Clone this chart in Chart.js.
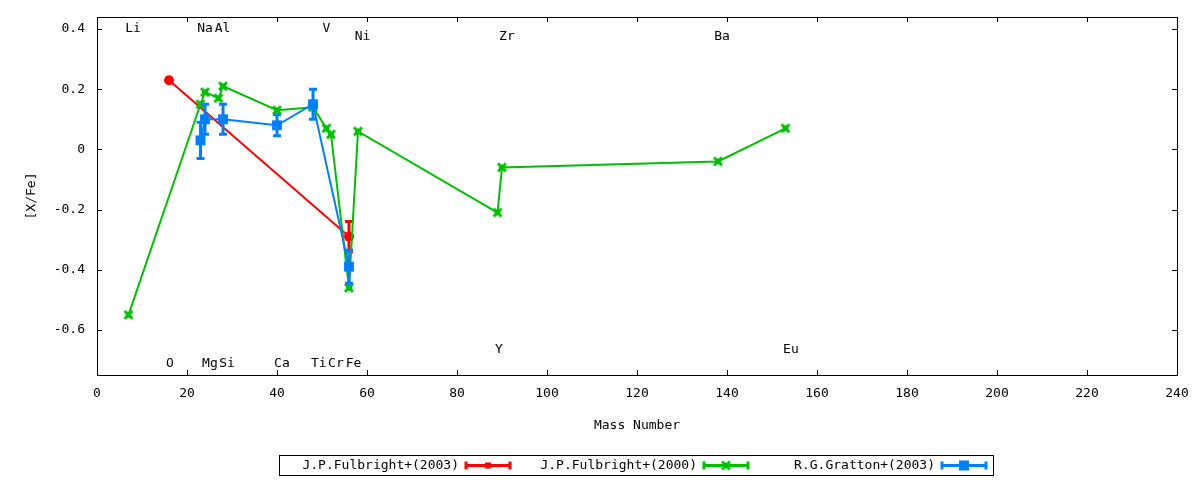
<!DOCTYPE html>
<html>
<head>
<meta charset="utf-8">
<script src="https://cdn.jsdelivr.net/npm/chart.js@4/dist/chart.umd.min.js"></script>
<style>
  html, body { margin: 0; padding: 0; background: #fff; }
  canvas { display: block; }
</style>
</head>
<body>
<canvas id="canvas" width="1200" height="480"></canvas>
<script>
// mass numbers and [X/Fe]
const red03Mass = [16, 56];
const red03Val = [0.23, -0.29];
const red03Err = [0, 0.05];

const green00Mass = [7, 23, 24, 27, 28, 40, 48, 51, 52, 56, 58, 89, 90, 138, 153];
const green00Val = [-0.55, 0.15, 0.19, 0.17, 0.21, 0.13, 0.14, 0.07, 0.05, -0.46, 0.06, -0.21, -0.06, -0.04, 0.07];

const blue03Mass = [23, 24, 28, 40, 48, 56];
const blue03Val = [0.03, 0.10, 0.10, 0.08, 0.15, -0.39];
const blue03Err = [0.06, 0.05, 0.05, 0.035, 0.05, 0.055];

const seriesNames = ["J.P.Fulbright+(2003)", "J.P.Fulbright+(2000)", "R.G.Gratton+(2003)"];

// element labels (data coords)
const elemNames = ["Li", "Na", "Al", "V", "Ni", "Zr", "Ba", "O", "Mg", "Si", "Ca", "Ti", "Cr", "Fe", "Y", "Eu"];
const elemX = [8, 24, 27.9, 51, 59, 91.1, 138.9, 16.2, 25.1, 28.9, 41.1, 49.3, 53.1, 57, 89.3, 154.2];
const elemY = [0.4, 0.4, 0.4, 0.4, 0.375, 0.375, 0.375, -0.712, -0.712, -0.712, -0.712, -0.712, -0.712, -0.712, -0.665, -0.665];

const xTicks = [0, 20, 40, 60, 80, 100, 120, 140, 160, 180, 200, 220, 240];
const yTicks = [-0.6, -0.4, -0.2, 0, 0.2, 0.4];

const FONT = "DejaVu Sans Mono";
const RED = "#ff0000", GREEN = "#00c000", BLUE = "#0080ff";

const toPts = (xs, ys) => xs.map((x, i) => ({ x: x, y: ys[i] }));

// gnuplot-ish asterisk marker
const starMarker = (() => {
  const c = document.createElement("canvas");
  c.width = 12; c.height = 12;
  const g = c.getContext("2d");
  g.strokeStyle = GREEN;
  g.fillStyle = GREEN;
  g.lineWidth = 3;
  g.beginPath();
  g.moveTo(2, 2); g.lineTo(10, 10);
  g.moveTo(10, 2); g.lineTo(2, 10);
  g.stroke();
  g.fillRect(3, 3, 6, 6);
  return c;
})();

const errorBars = {
  id: "errorBars",
  afterDatasetDraw(chart, args) {
    const ds = chart.data.datasets[args.index];
    if (!ds.errors) return;
    const ctx = chart.ctx;
    const xs = chart.scales.x, ys = chart.scales.y;
    ctx.save();
    ctx.strokeStyle = ds.borderColor;
    ctx.lineWidth = 3;
    ds.data.forEach((p, i) => {
      const e = ds.errors[i];
      if (!e) return;
      const px = xs.getPixelForValue(p.x);
      const y1 = ys.getPixelForValue(p.y + e);
      const y2 = ys.getPixelForValue(p.y - e);
      ctx.beginPath();
      ctx.moveTo(px, y1); ctx.lineTo(px, y2);
      ctx.moveTo(px - 4, y1); ctx.lineTo(px + 4, y1);
      ctx.moveTo(px - 4, y2); ctx.lineTo(px + 4, y2);
      ctx.stroke();
    });
    ctx.restore();
  }
};

const frameAndLabels = {
  id: "frameAndLabels",
  afterDraw(chart) {
    const ctx = chart.ctx;
    const a = chart.chartArea;
    const xs = chart.scales.x, ys = chart.scales.y;
    ctx.save();
    ctx.strokeStyle = "#000";
    ctx.lineWidth = 1;
    ctx.strokeRect(Math.round(a.left) + 0.5, Math.round(a.top) + 0.5,
      Math.round(a.right - a.left), Math.round(a.bottom - a.top));
    ctx.beginPath();
    xTicks.forEach(v => {
      const px = Math.round(xs.getPixelForValue(v)) + 0.5;
      ctx.moveTo(px, a.bottom); ctx.lineTo(px, a.bottom - 5);
      ctx.moveTo(px, a.top); ctx.lineTo(px, a.top + 5);
    });
    yTicks.forEach(v => {
      const py = Math.round(ys.getPixelForValue(v)) + 0.5;
      ctx.moveTo(a.left, py); ctx.lineTo(a.left + 5, py);
      ctx.moveTo(a.right, py); ctx.lineTo(a.right - 5, py);
    });
    ctx.stroke();

    // element names
    ctx.fillStyle = "#000";
    ctx.font = "13px " + FONT;
    ctx.textAlign = "center";
    ctx.textBaseline = "middle";
    elemNames.forEach((n, i) => {
      ctx.fillText(n, xs.getPixelForValue(elemX[i]), ys.getPixelForValue(elemY[i]));
    });

    // legend box, gnuplot style
    const colors = chart.data.datasets.map(d => d.borderColor);
    const bx = 279, by = 455, bw = 714, bh = 20, step = 238;
    ctx.strokeRect(bx + 0.5, by + 0.5, bw, bh);
    const cy = by + bh / 2 + 0.5;
    seriesNames.forEach((name, i) => {
      const x0 = bx + i * step;
      ctx.fillStyle = "#000";
      ctx.textAlign = "right";
      ctx.fillText(name, x0 + 180, cy);
      const s1 = x0 + 187, s2 = x0 + 231;
      ctx.strokeStyle = colors[i];
      ctx.lineWidth = 3;
      ctx.beginPath();
      ctx.moveTo(s1, cy); ctx.lineTo(s2, cy);
      ctx.moveTo(s1, cy - 4); ctx.lineTo(s1, cy + 4);
      ctx.moveTo(s2, cy - 4); ctx.lineTo(s2, cy + 4);
      ctx.stroke();
      const mx = (s1 + s2) / 2;
      if (i === 1) {
        ctx.drawImage(starMarker, mx - 6, cy - 6);
      } else {
        ctx.fillStyle = colors[i];
        const r = i === 0 ? 3 : 5;
        ctx.fillRect(mx - r, cy - r, 2 * r, 2 * r);
      }
    });
    ctx.restore();
  }
};

const ctx = document.getElementById("canvas").getContext("2d");

new Chart(ctx, {
  type: "scatter",
  data: {
    datasets: [
      {
        label: seriesNames[0],
        data: toPts(red03Mass, red03Val),
        errors: red03Err,
        showLine: true,
        borderColor: RED,
        backgroundColor: RED,
        borderWidth: 2,
        pointStyle: "circle",
        pointRadius: 5,
        pointBorderWidth: 0,
        order: 3,
      },
      {
        label: seriesNames[1],
        data: toPts(green00Mass, green00Val),
        showLine: true,
        borderColor: GREEN,
        backgroundColor: GREEN,
        borderWidth: 2,
        pointStyle: starMarker,
        order: 2,
      },
      {
        label: seriesNames[2],
        data: toPts(blue03Mass, blue03Val),
        errors: blue03Err,
        showLine: true,
        borderColor: BLUE,
        backgroundColor: BLUE,
        borderWidth: 2,
        pointStyle: "rect",
        pointRadius: 7,
        pointBorderWidth: 0,
        order: 1,
      },
    ],
  },
  options: {
    responsive: false,
    animation: false,
    devicePixelRatio: 1,
    layout: { padding: { left: 0, top: 17, right: 23, bottom: 40 } },
    plugins: {
      legend: { display: false },
      tooltip: { enabled: false },
    },
    scales: {
      x: {
        type: "linear",
        min: 0,
        max: 240,
        afterFit: (s) => { s.height = 65; s.paddingLeft = 0; s.paddingRight = 0; },
        afterBuildTicks: (s) => { s.ticks = xTicks.map(v => ({ value: v })); },
        grid: { display: false, drawTicks: false },
        border: { display: false },
        ticks: {
          color: "#000",
          padding: 11,
          maxRotation: 0,
          autoSkip: false,
          font: { family: FONT, size: 13 },
          callback: (v) => String(v),
        },
        title: {
          display: true,
          text: "Mass Number",
          color: "#000",
          font: { family: FONT, size: 13 },
          padding: { top: 0, bottom: 7 },
        },
      },
      y: {
        type: "linear",
        min: -0.75,
        max: 0.44,
        afterFit: (s) => { s.width = 97; s.paddingTop = 0; s.paddingBottom = 0; },
        afterBuildTicks: (s) => { s.ticks = yTicks.map(v => ({ value: v })); },
        grid: { display: false, drawTicks: false },
        border: { display: false },
        ticks: {
          color: "#000",
          padding: 12,
          autoSkip: false,
          font: { family: FONT, size: 13 },
          callback: (v) => String(Number(v.toFixed(1))),
        },
        title: {
          display: true,
          text: "[X/Fe]",
          color: "#000",
          font: { family: FONT, size: 13 },
          padding: { top: 24, bottom: 0 },
        },
      },
    },
  },
  plugins: [errorBars, frameAndLabels],
});
</script>
</body>
</html>
